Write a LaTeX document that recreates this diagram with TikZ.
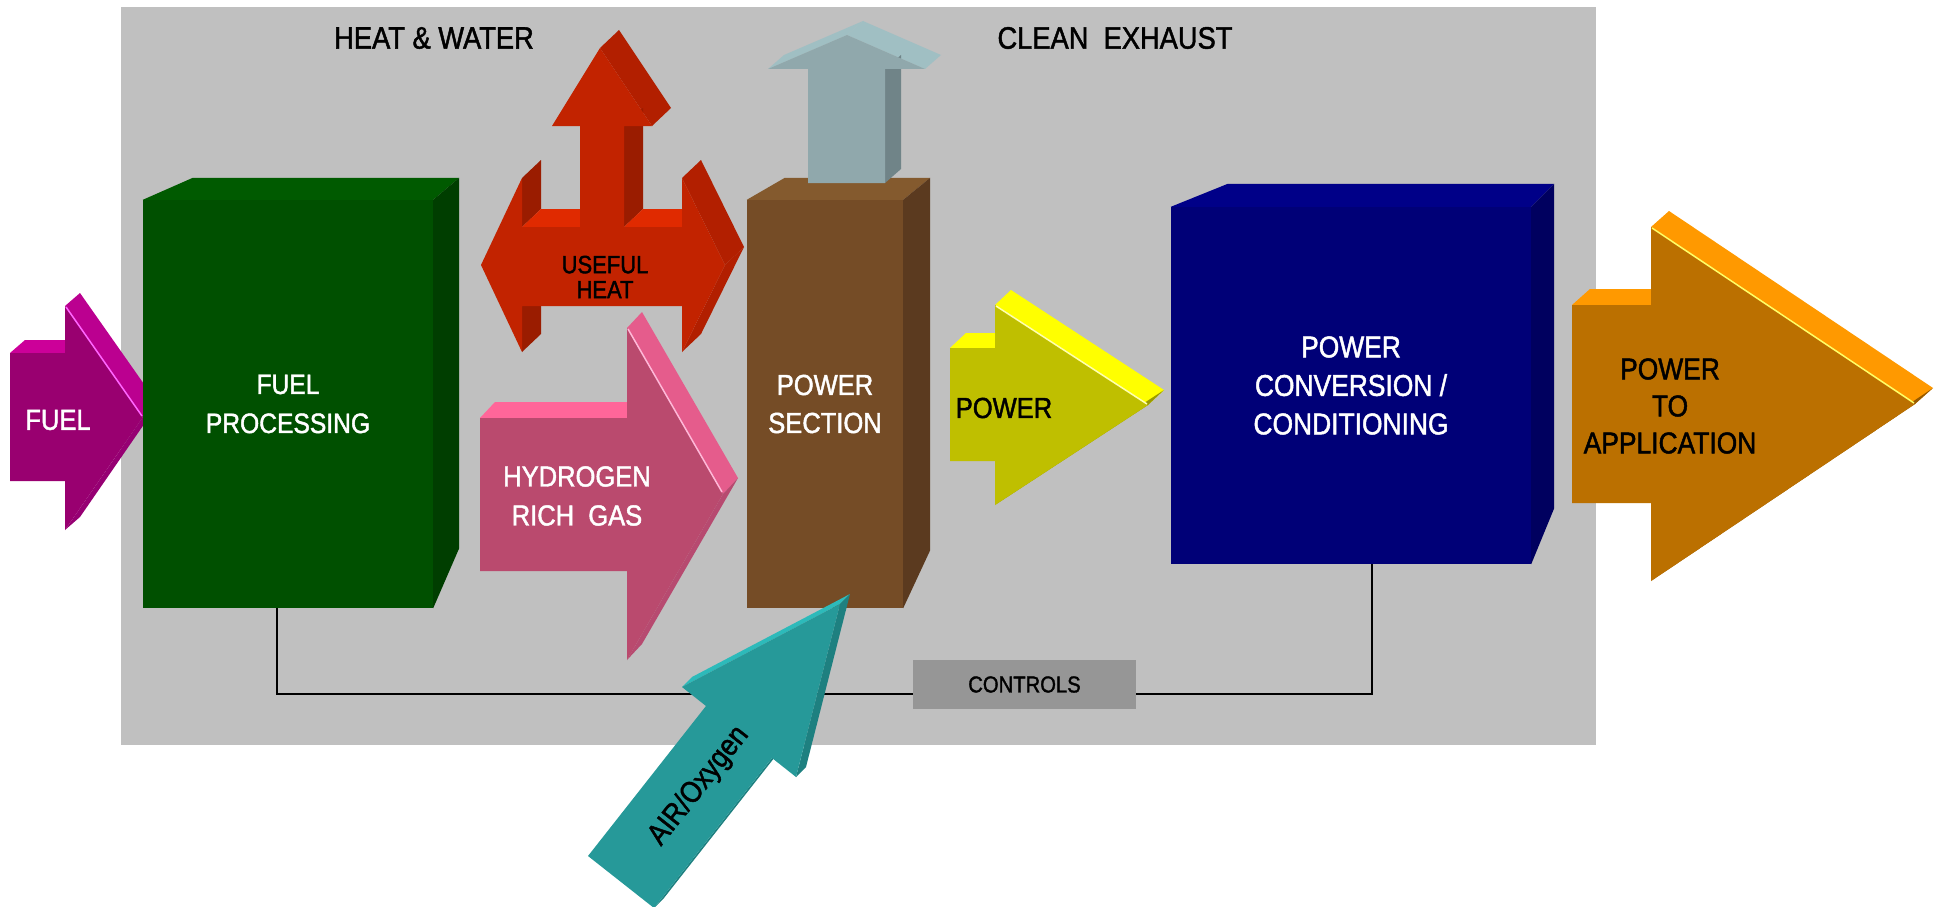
\documentclass[tikz,border=0pt]{standalone}
\usepackage{fontspec}
\setmainfont{Liberation Sans}[FakeStretch=0.88, FakeBold=1.5]
\usepackage{xcolor}

\definecolor{panelgray}{HTML}{C0C0C0}
\definecolor{ctrlgray}{HTML}{969696}
\definecolor{fuelfront}{HTML}{990070}
\definecolor{fueltop}{HTML}{CC0099}
\definecolor{fuelband}{HTML}{BB0090}
\definecolor{fuelshine}{HTML}{FF66FF}
\definecolor{fpfront}{HTML}{005000}
\definecolor{fptop}{HTML}{005A00}
\definecolor{fpside}{HTML}{003E00}
\definecolor{heatfront}{HTML}{C22300}
\definecolor{heattop}{HTML}{E02A00}
\definecolor{heatmid}{HTML}{B21F00}
\definecolor{heatside}{HTML}{9A1C00}
\definecolor{gasfront}{HTML}{BA4A6E}
\definecolor{gastop}{HTML}{FF6699}
\definecolor{gasband}{HTML}{E55C8C}
\definecolor{gasshine}{HTML}{FFB8D8}
\definecolor{exfront}{HTML}{90A8AC}
\definecolor{extop}{HTML}{A0BFC3}
\definecolor{exside}{HTML}{708488}
\definecolor{psfront}{HTML}{754C26}
\definecolor{pstop}{HTML}{845A2E}
\definecolor{psside}{HTML}{5B3A1F}
\definecolor{pwrfront}{HTML}{BFBF00}
\definecolor{pwrtop}{HTML}{FFFF00}
\definecolor{pwrshine}{HTML}{FFFFB0}
\definecolor{pccfront}{HTML}{000077}
\definecolor{pcctop}{HTML}{000088}
\definecolor{pccside}{HTML}{00005F}
\definecolor{appfront}{HTML}{BB7000}
\definecolor{apptop}{HTML}{FF9900}
\definecolor{appshine}{HTML}{FFFF66}
\definecolor{airfront}{HTML}{269999}
\definecolor{airtop}{HTML}{2DBABA}
\definecolor{airside}{HTML}{1E8080}

\tikzset{
  block/.style={
    rectangle,
    inner sep=0pt,
    align=center,
    text=white,
    font=\fontsize{29pt}{38pt}\selectfont
    },
  tag/.style={
    inner sep=0pt,
    align=center,
    font=\fontsize{29pt}{39pt}\selectfont
    },
  heading/.style={inner sep=0pt, font=\fontsize{31pt}{36pt}\selectfont},
  ctrlbox/.style={
    rectangle,
    fill=ctrlgray,
    inner sep=0pt,
    minimum width=223pt,
    minimum height=49pt,
    font=\fontsize{23pt}{28pt}\selectfont
    },
  ctrlline/.style={line width=2.7pt},
  shine/.style={line width=1.5pt},
}

\begin{document}
\begin{tikzpicture}[x=1pt, y=-1pt]
\useasboundingbox (0,0) rectangle (1939,907);
\fill[panelgray] (121,7) rectangle (1596,745);

\node[heading] (heat) at (434,38) {HEAT \& WATER};
\node[heading] (exhaust) at (1115,38) {CLEAN\ \ EXHAUST};

% fuel in
\fill[fueltop] (10,353) -- (25,340) -- (80,340) -- (65,353) -- cycle;
\fill[fuelband] (65,306) -- (80,293) -- (158,404) -- (143,417) -- cycle;
\fill[fuelband!80!black] (143,417) -- (158,404) -- (80,517) -- (65,530) -- cycle;
\fill[fuelfront] (10,353) -- (65,353) -- (65,306) -- (143,417) -- (65,530) -- (65,481) -- (10,481) -- cycle;
\draw[shine, fuelshine] (66,307) -- (142,416);
\node[tag, text=white] (fuel) at (58,420) {FUEL};

% fuel processing
\node[block, fill=fpfront, minimum width=290pt, minimum height=408pt,
  font=\fontsize{28pt}{39pt}\selectfont] (fp) at (288,404) {FUEL\\PROCESSING};
\fill[fptop] (fp.north west) -- ++(50,-22) -- ([shift={(26,-22)}]fp.north east) -- (fp.north east) -- cycle;
\fill[fpside] (fp.north east) -- ++(26,-22) -- ([shift={(26,-60)}]fp.south east) -- (fp.south east) -- cycle;

% useful heat, three ways
\fill[heatside] (522,178) -- (541,160) -- (541,209) -- (522,227) -- cycle;
\fill[heatside] (522,306) -- (541,288) -- (541,334) -- (522,352) -- cycle;
\fill[heattop] (522,227) -- (541,209) -- (599,209) -- (580,227) -- cycle;
\fill[heatmid] (600,48) -- (619,30) -- (671,108) -- (652,126) -- cycle;
\fill[heatside] (624,126) -- (643,108) -- (643,209) -- (624,227) -- cycle;
\fill[heattop] (624,227) -- (643,209) -- (701,209) -- (682,227) -- cycle;
\fill[heatmid] (682,178) -- (701,160) -- (744,247) -- (725,265) -- cycle;
\fill[heatmid] (725,265) -- (744,247) -- (701,334) -- (682,352) -- cycle;
\fill[heatfront] (481,265) -- (522,178) -- (522,227) -- (580,227) -- (580,126) -- (552,126)
  -- (600,48) -- (652,126) -- (624,126) -- (624,227) -- (682,227) -- (682,178)
  -- (725,265) -- (682,352) -- (682,306) -- (522,306) -- (522,352) -- cycle;
\node[tag, font=\fontsize{25pt}{25pt}\selectfont] (heatuse) at (605,277) {USEFUL\\HEAT};

% hydrogen rich gas
\fill[gastop] (480,418) -- (495,402) -- (642,402) -- (627,418) -- cycle;
\fill[gasband] (627,328) -- (642,312) -- (738,478) -- (723,494) -- cycle;
\fill[gasband!80!black] (723,494) -- (738,478) -- (642,644) -- (627,660) -- cycle;
\fill[gasfront] (480,418) -- (627,418) -- (627,328) -- (723,494) -- (627,660) -- (627,571) -- (480,571) -- cycle;
\draw[shine, gasshine] (628,329) -- (722,492);
\node[tag, text=white] (gas) at (577,496) {HYDROGEN\\RICH\ \ GAS};

% power section
\node[block, fill=psfront, minimum width=156pt, minimum height=408pt] (ps) at (825,404) {POWER\\SECTION};
\fill[pstop] (ps.north west) -- ++(38,-22) -- ([shift={(27,-22)}]ps.north east) -- (ps.north east) -- cycle;
\fill[psside] (ps.north east) -- ++(27,-22) -- ([shift={(27,-58)}]ps.south east) -- (ps.south east) -- cycle;

% clean exhaust
\fill[extop] (768,69) -- (784,55) -- (863,21) -- (847,35) -- cycle;
\fill[extop] (847,35) -- (863,21) -- (941,55) -- (925,69) -- cycle;
\fill[exside] (885,69) -- (901,55) -- (901,169) -- (885,183) -- cycle;
\fill[exfront] (808,183) -- (808,69) -- (768,69) -- (847,35) -- (925,69) -- (885,69) -- (885,183) -- cycle;

% power
\fill[pwrtop] (950,348) -- (966,333) -- (1011,333) -- (995,348) -- cycle;
\fill[pwrtop] (995,305) -- (1011,290) -- (1164,390) -- (1148,405) -- cycle;
\fill[pwrfront!80!black] (1148,405) -- (1164,390) -- (1011,490) -- (995,505) -- cycle;
\fill[pwrfront] (950,348) -- (995,348) -- (995,305) -- (1148,405) -- (995,505) -- (995,461) -- (950,461) -- cycle;
\draw[shine, pwrshine] (996,306) -- (1147,404);
\node[tag] (pwr) at (1004,408) {POWER};

% power conversion
\node[block, fill=pccfront, minimum width=360pt, minimum height=357pt,
  font=\fontsize{30pt}{38.5pt}\selectfont] (pcc) at (1351,385.5) {POWER\\CONVERSION /\\CONDITIONING};
\fill[pcctop] (pcc.north west) -- ++(57,-23) -- ([shift={(23,-23)}]pcc.north east) -- (pcc.north east) -- cycle;
\fill[pccside] (pcc.north east) -- ++(23,-23) -- ([shift={(23,-56)}]pcc.south east) -- (pcc.south east) -- cycle;

% power to application
\fill[apptop] (1572,305) -- (1590,289) -- (1669,289) -- (1651,305) -- cycle;
\fill[apptop] (1651,227) -- (1669,211) -- (1933,388) -- (1915,404) -- cycle;
\fill[appfront!80!black] (1915,404) -- (1933,388) -- (1669,565) -- (1651,581) -- cycle;
\fill[appfront] (1572,305) -- (1651,305) -- (1651,227) -- (1915,404) -- (1651,581) -- (1651,503) -- (1572,503) -- cycle;
\draw[shine, appshine] (1652,228) -- (1914,403);
\node[tag, font=\fontsize{30pt}{37pt}\selectfont] (app) at (1670,406) {POWER\\TO\\APPLICATION};

% controls loop
\node[ctrlbox] (ctrl) at (1024.5,684.5) {CONTROLS};
\draw[ctrlline] ([xshift=-11pt]fp.south) |- ([yshift=-9.5pt]ctrl.west);
\draw[ctrlline] ([yshift=-9.5pt]ctrl.east) -| ([xshift=21pt]pcc.south);

% air / oxygen
\fill[airtop] (682,687) -- (692,677) -- (850,594) -- (840,604) -- cycle;
\fill[airside] (840,604) -- (850,594) -- (806,767) -- (796,777) -- cycle;
\fill[airside] (772,758) -- (782,748) -- (664,898) -- (654,908) -- cycle;
\fill[airfront] (840,604) -- (682,687) -- (706,706) -- (588,856) -- (654,908) -- (772,758) -- (796,777) -- cycle;
\node[tag, rotate=51.7, font=\fontsize{30pt}{36pt}\selectfont] (air) at (699,786) {AIR/Oxygen};

\end{tikzpicture}
\end{document}
